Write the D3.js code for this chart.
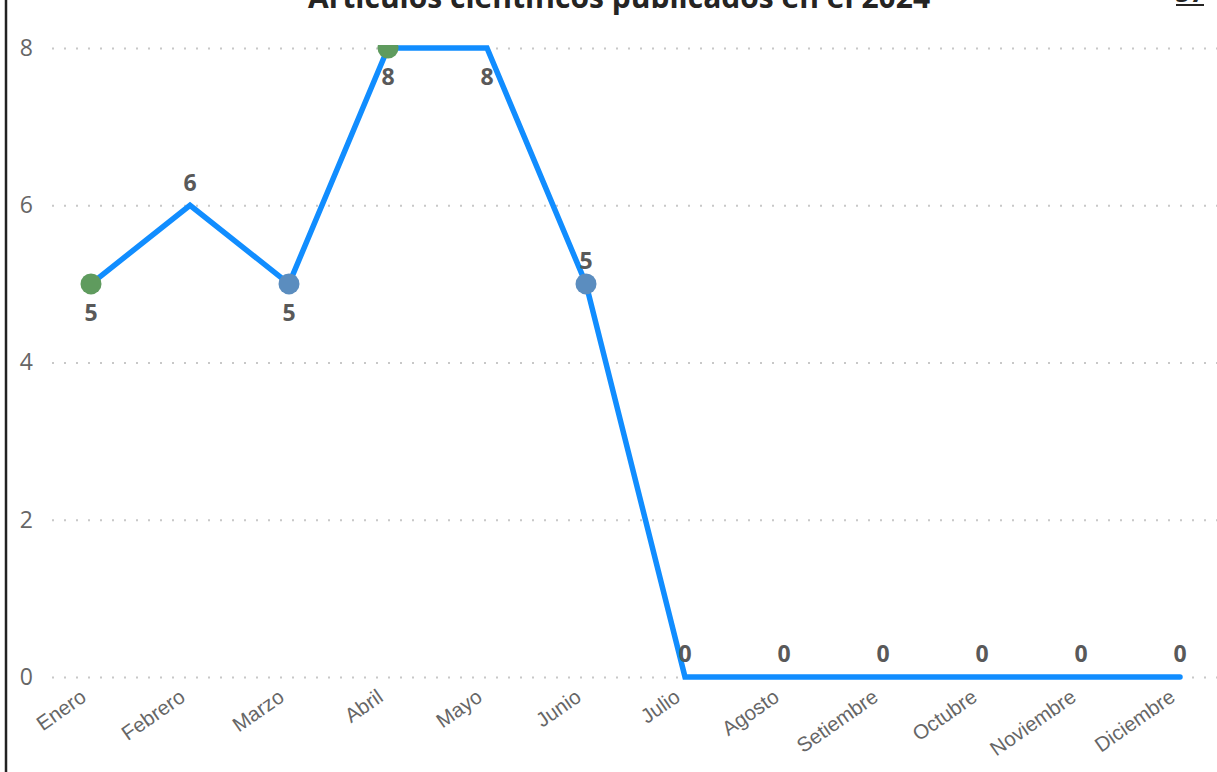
<!DOCTYPE html>
<html>
<head>
<meta charset="utf-8">
<script src="https://cdn.jsdelivr.net/npm/d3@7"></script>
<style>
html,body{margin:0;padding:0;background:#fff;}
svg{display:block;}
</style>
</head>
<body>
<svg id="chart" width="1217" height="772"></svg>
<script>
const months = ["Enero","Febrero","Marzo","Abril","Mayo","Junio","Julio","Agosto","Setiembre","Octubre","Noviembre","Diciembre"];
const values = [5,6,5,8,8,5,0,0,0,0,0,0];
const labelSide = ["below","above","below","below","below","above","above","above","above","above","above","above"];
const markerMonths = ["Enero","Marzo","Abril","Junio"];
const markerKinds = ["green","blue","green","blue"];
const yTicks = [0,2,4,6,8];
const titleText = "Artículos científicos publicados en el 2024";
const cornerText = "57";

const W = 1217, H = 772;
const svg = d3.select("#chart");

const x = d3.scalePoint().domain(months).range([91,1180]);
const y = d3.scaleLinear().domain([0,8]).range([677,48]);

const markerColor = {green:"#5f9b5e", blue:"#5b8dbf"};

// left border
svg.append("line").attr("x1",6).attr("x2",6).attr("y1",0).attr("y2",H)
  .attr("stroke","#222").attr("stroke-width",2.5);

// title (cut off at top, as in the source)
svg.append("text").attr("x",619).attr("y",8).attr("text-anchor","middle")
  .attr("font-family","'Open Sans', sans-serif").attr("font-weight","bold")
  .attr("font-size",30).attr("fill","#252423").text(titleText);

svg.append("text").attr("x",1190).attr("y",2).attr("text-anchor","middle")
  .attr("font-family","'Open Sans', sans-serif").attr("font-weight","bold")
  .attr("font-size",26).attr("fill","#252423").text(cornerText);
svg.append("line").attr("x1",1176).attr("x2",1204).attr("y1",5).attr("y2",5)
  .attr("stroke","#252423").attr("stroke-width",2);

// gridlines
const yAxis = d3.axisLeft(y).tickValues(yTicks).tickSize(-(W-52)).tickFormat(d3.format("d")).tickPadding(18);
const gy = svg.append("g").attr("transform","translate(52,0)").call(yAxis);
gy.select(".domain").remove();
gy.selectAll(".tick line").attr("stroke","#c8c8c8").attr("stroke-width",2)
  .attr("stroke-dasharray","2,10").attr("stroke-linecap","butt");
gy.selectAll(".tick text").attr("font-family","'Open Sans', sans-serif")
  .attr("font-size",23).attr("fill","#666").attr("x",-19);

// x axis labels
const xAxis = d3.axisBottom(x).tickSize(0).tickPadding(0);
const gx = svg.append("g").attr("transform","translate(0,677)").call(xAxis);
gx.select(".domain").remove();
gx.selectAll(".tick text")
  .attr("font-family","'Liberation Sans', Arial, sans-serif")
  .attr("font-size",20.5).attr("fill","#666")
  .attr("text-anchor","end").attr("dy",null).attr("y",null)
  .attr("transform","translate(-4,23) rotate(-35)");

// clip
svg.append("defs").append("clipPath").attr("id","plotclip")
  .append("rect").attr("x",0).attr("y",45).attr("width",W).attr("height",H-45);

const plot = svg.append("g").attr("clip-path","url(#plotclip)");
const data = months.map((m,i)=>({m, v:values[i], side:labelSide[i]}));

plot.append("path").datum(data)
  .attr("d", d3.line().x(d=>x(d.m)).y(d=>y(d.v)))
  .attr("fill","none").attr("stroke","#118dff").attr("stroke-width",5.5)
  .attr("stroke-linejoin","miter").attr("stroke-linecap","round");

const markers = markerMonths.map((m,i)=>({m, v: values[months.indexOf(m)], k: markerKinds[i]}));
plot.selectAll("circle.mk").data(markers).join("circle").attr("class","mk")
  .attr("cx",d=>x(d.m)).attr("cy",d=>y(d.v)).attr("r",10.5)
  .attr("fill",d=>markerColor[d.k]);

// data labels
svg.selectAll("text.dl").data(data).join("text").attr("class","dl")
  .attr("x",d=>x(d.m))
  .attr("y",d=>y(d.v) + (d.side==="below" ? 29 : -23))
  .attr("dy","0.36em")
  .attr("text-anchor","middle")
  .attr("font-family","'Open Sans', sans-serif").attr("font-weight","bold")
  .attr("font-size",23).attr("fill","#595959")
  .text(d=>d.v);
</script>
</body>
</html>
